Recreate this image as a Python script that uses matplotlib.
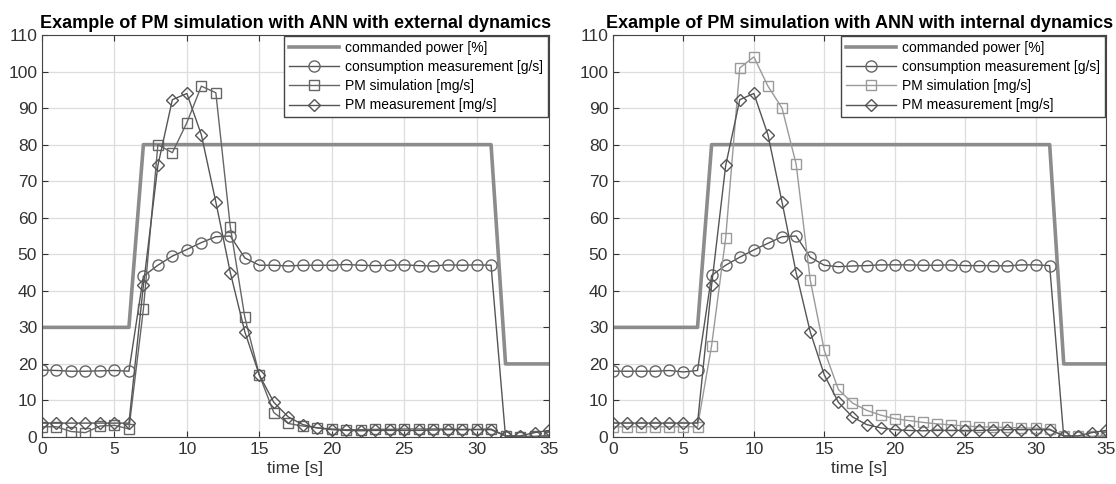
import matplotlib.pyplot as plt

plt.rcParams['font.family'] = ['Liberation Sans', 'DejaVu Sans']

t = list(range(36))

# commanded power, step profile
power_t = [0, 6, 7, 31, 32, 35]
power_v = [30, 30, 80, 80, 20, 20]

# left: ANN with external dynamics
cons_ext = [18.3, 18.2, 18.0, 18.0, 18.1, 18.2, 18.0, 44.0, 47.0, 49.5, 51.3, 53.2,
            54.8, 55.0, 49.0, 47.0, 47.0, 46.8, 47.0, 47.0, 47.0, 47.2, 47.0, 46.9,
            47.0, 47.1, 46.9, 46.8, 47.1, 47.0, 47.1, 47.0, 0.0, 0.0, 0.0, 0.0]
sim_ext = [2.8, 2.8, 1.5, 1.2, 3.0, 3.2, 2.2, 35.0, 80.0, 77.8, 86.0, 96.0,
           94.2, 57.5, 32.8, 17.0, 6.7, 3.7, 3.0, 2.5, 2.2, 2.0, 2.0, 2.1,
           2.1, 2.2, 2.2, 2.2, 2.2, 2.1, 2.1, 2.2, 0.3, 0.1, 0.2, 0.4]
meas_ext = [3.8, 3.8, 3.8, 3.8, 3.8, 3.8, 3.8, 41.5, 74.3, 92.3, 94.0, 82.7,
            64.3, 45.0, 28.8, 17.0, 9.5, 5.5, 3.4, 2.5, 2.0, 1.8, 1.7, 1.8,
            1.8, 1.8, 1.8, 1.9, 2.0, 2.0, 2.0, 2.0, 0.3, 0.3, 1.2, 1.8]

# right: ANN with internal dynamics
cons_int = [18.0, 18.0, 18.0, 18.0, 18.2, 17.8, 18.2, 44.2, 47.0, 49.2, 51.2, 53.0,
            54.8, 55.0, 49.2, 47.0, 46.6, 46.8, 46.9, 47.1, 47.1, 47.1, 47.0, 47.0,
            47.1, 46.9, 46.9, 46.9, 46.8, 47.1, 47.1, 46.9, 0.0, 0.0, 0.0, 0.0]
sim_int = [2.8, 2.8, 2.8, 2.8, 2.8, 2.8, 2.8, 25.0, 54.5, 101.0, 104.0, 96.0,
           90.0, 74.7, 43.0, 23.7, 13.0, 9.3, 7.3, 6.0, 5.0, 4.5, 4.0, 3.6,
           3.3, 3.0, 2.8, 2.7, 2.6, 2.5, 2.4, 2.2, 0.3, 0.2, 0.2, 0.4]
meas_int = meas_ext

fig = plt.figure(figsize=(11.16, 4.84), dpi=100)
ax1 = fig.add_axes([42/1116, 47/484, 507/1116, 402/484])
ax2 = fig.add_axes([613/1116, 47/484, 493/1116, 402/484])

panels = [
    (ax1, cons_ext, sim_ext, meas_ext, '#666666', 'Example of PM simulation with ANN with external dynamics'),
    (ax2, cons_int, sim_int, meas_int, '#9a9a9a', 'Example of PM simulation with ANN with internal dynamics'),
]

for ax, cons, sim, meas, sim_col, title in panels:
    ax.plot(power_t, power_v, color='#8c8c8c', lw=2.6, label='commanded power [%]')
    ax.plot(t, cons, color='#555555', lw=1, marker='o', ms=8, mfc='none',
            mec='#666666', label='consumption measurement [g/s]')
    ax.plot(t, sim, color=sim_col, lw=1, marker='s', ms=6.5, mfc='none',
            mec=sim_col, label='PM simulation [mg/s]')
    ax.plot(t, meas, color='#555555', lw=1, marker='D', ms=6.5, mfc='none',
            mec='#555555', label='PM measurement [mg/s]')
    ax.set_xlim(0, 35)
    ax.set_ylim(0, 110)
    ax.set_xticks(range(0, 36, 5))
    ax.set_yticks(range(0, 111, 10))
    ax.grid(True, color='#dddddd', lw=0.9)
    ax.set_axisbelow(True)
    ax.tick_params(labelsize=12.5, colors='#333333', direction='in', length=4,
                   top=True, right=True)
    for s in ax.spines.values():
        s.set_color('#444444')
    ax.set_xlabel('time [s]', fontsize=12.5, color='#333333', labelpad=3)
    ax.set_title(title, fontsize=13, fontweight='bold', pad=5)
    leg = ax.legend(loc='upper right', fontsize=10, borderaxespad=0.05,
                    handlelength=3.6, handletextpad=0.5, fancybox=False,
                    framealpha=1, labelspacing=0.38, borderpad=0.35)
    leg.get_frame().set_edgecolor('#444444')

fig.savefig('out.png', dpi=100)
